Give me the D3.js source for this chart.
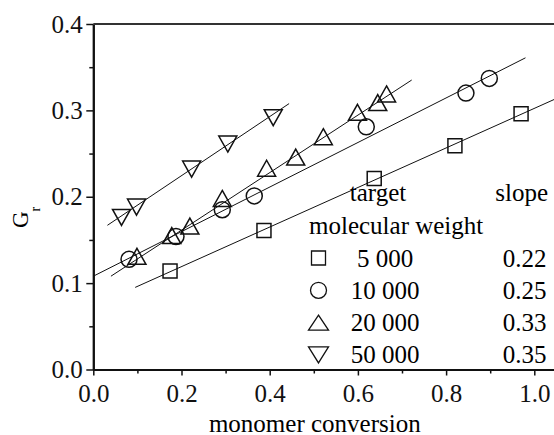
<!DOCTYPE html>
<html>
<head>
<meta charset="utf-8">
<script src="https://cdn.jsdelivr.net/npm/d3@7"></script>
<style>
  body { margin: 0; background: #fff; }
  svg text { font-family: "Liberation Serif", "Times New Roman", "Liberation Sans", sans-serif; }
</style>
</head>
<body>
<svg id="chart" width="554" height="435"></svg>
<script>
// data
var seriesNames = ["5 000", "10 000", "20 000", "50 000"];
var seriesSlopes = ["0.22", "0.25", "0.33", "0.35"];
var seriesSymbols = ["square", "circle", "triangleUp", "triangleDown"];

var x5k = [0.174, 0.387, 0.637, 0.820, 0.970];
var y5k = [0.114, 0.161, 0.221, 0.259, 0.296];
var x10k = [0.081, 0.1875, 0.2925, 0.365, 0.619, 0.845, 0.898];
var y10k = [0.1275, 0.154, 0.185, 0.201, 0.281, 0.320, 0.337];
var x20k = [0.099, 0.178, 0.219, 0.2925, 0.393, 0.459, 0.5216, 0.599, 0.645, 0.665];
var y20k = [0.1310, 0.155, 0.166, 0.198, 0.233, 0.246, 0.2695, 0.2977, 0.309, 0.319];
var x50k = [0.064, 0.098, 0.223, 0.305, 0.408];
var y50k = [0.176, 0.188, 0.232, 0.261, 0.2915];

// fitted lines: intercept, slope, x start, x end
var fitIntercept = [0.0733, 0.108, 0.0947, 0.156];
var fitSlope = [0.229, 0.258, 0.333, 0.342];
var fitStart = [0.095, 0.0, 0.040, 0.032];
var fitEnd = [1.06, 0.98, 0.722, 0.444];

var xMajor = [0, 0.2, 0.4, 0.6, 0.8, 1.0];
var xMinor = [0.1, 0.3, 0.5, 0.7, 0.9];
var yMajor = [0, 0.1, 0.2, 0.3, 0.4];
var yMinor = [0.05, 0.15, 0.25, 0.35];

var xs = [x5k, x10k, x20k, x50k];
var ys = [y5k, y10k, y20k, y50k];

var serif = "'Liberation Serif', 'Times New Roman', 'Liberation Sans', sans-serif";
var svg = d3.select("#chart");

var plotLeft = 93.3, plotTop = 24, plotBottom = 369.5;
var x = d3.scaleLinear().domain([0, 1.06]).range([plotLeft, plotLeft + 441 * 1.06]);
var y = d3.scaleLinear().domain([0, 0.4]).range([plotBottom, plotTop]);

// fitted lines
var lineG = svg.append("g");
fitSlope.forEach(function (s, i) {
  var pts = [fitStart[i], fitEnd[i]].map(function (v) { return [v, fitIntercept[i] + s * v]; });
  lineG.append("path")
    .attr("d", d3.line().x(function (d) { return x(d[0]); }).y(function (d) { return y(d[1]); })(pts))
    .attr("fill", "none")
    .attr("stroke", "#111")
    .attr("stroke-width", 1);
});

function symbolPath(type, w, h) {
  if (type === "square") {
    return "M" + (-w / 2) + "," + (-w / 2) + "h" + w + "v" + w + "h" + (-w) + "Z";
  }
  if (type === "circle") {
    var r = w / 2;
    return "M" + r + ",0A" + r + "," + r + " 0 1,1 " + (-r) + ",0A" + r + "," + r + " 0 1,1 " + r + ",0Z";
  }
  if (type === "triangleUp") {
    return "M0," + (-h / 2) + "L" + (w / 2) + "," + (h / 2) + "L" + (-w / 2) + "," + (h / 2) + "Z";
  }
  return "M0," + (h / 2) + "L" + (w / 2) + "," + (-h / 2) + "L" + (-w / 2) + "," + (-h / 2) + "Z";
}

var symW = [14, 16, 18, 18];
var symH = [14, 16, 16, 16];

// markers
xs.forEach(function (xv, i) {
  var data = xv.map(function (v, j) { return [v, ys[i][j]]; });
  svg.append("g").selectAll("path")
    .data(data)
    .enter()
    .append("path")
    .attr("transform", function (d) { return "translate(" + x(d[0]) + "," + y(d[1]) + ")"; })
    .attr("d", symbolPath(seriesSymbols[i], symW[i], symH[i]))
    .attr("fill", "none")
    .attr("stroke", "#111")
    .attr("stroke-width", 1.5);
});

// axes
var xAxis = d3.axisBottom(x).tickValues(xMajor).tickFormat(d3.format(".1f"))
  .tickSize(6).tickSizeOuter(0).tickPadding(8.5);
var xAxisMinor = d3.axisBottom(x).tickValues(xMinor).tickFormat("").tickSize(4).tickSizeOuter(0);
var yAxis = d3.axisLeft(y).tickValues(yMajor).tickFormat(d3.format(".1f"))
  .tickSize(7).tickSizeOuter(0).tickPadding(3.6);
var yAxisMinor = d3.axisLeft(y).tickValues(yMinor).tickFormat("").tickSize(4).tickSizeOuter(0);

svg.append("g").attr("transform", "translate(0," + plotBottom + ")").call(xAxis);
svg.append("g").attr("transform", "translate(0," + plotBottom + ")").call(xAxisMinor);
svg.append("g").attr("transform", "translate(" + plotLeft + ",0)").call(yAxis);
svg.append("g").attr("transform", "translate(" + plotLeft + ",0)").call(yAxisMinor);

svg.selectAll("g").attr("font-family", serif);
svg.selectAll(".domain").attr("stroke", "#111").attr("stroke-width", 2);
svg.selectAll(".tick line").attr("stroke", "#111").attr("stroke-width", 1.5);
svg.selectAll(".tick text").attr("fill", "#111").attr("font-size", 25);

// top frame line
svg.append("line")
  .attr("x1", plotLeft).attr("x2", x.range()[1])
  .attr("y1", plotTop).attr("y2", plotTop)
  .attr("stroke", "#333").attr("stroke-width", 2);

// axis titles
svg.append("text")
  .attr("x", x(0.5) + 1).attr("y", 431.5)
  .attr("text-anchor", "middle")
  .attr("font-family", serif).attr("font-size", 25)
  .text("monomer conversion");

var yt = svg.append("text")
  .attr("transform", "translate(28,228) rotate(-90)")
  .attr("font-family", serif).attr("font-size", 23);
yt.append("tspan").text("G");
yt.append("tspan").attr("dy", 12).attr("font-size", 14).text("r");

// legend
var leg = svg.append("g").attr("font-family", serif).attr("font-size", 25);
leg.append("text").attr("x", 378).attr("y", 201).attr("text-anchor", "middle").text("target");
leg.append("text").attr("x", 548).attr("y", 201).attr("text-anchor", "end").text("slope");
leg.append("text").attr("x", 309).attr("y", 233.5).text("molecular weight");

var legW = [14, 16, 20, 20];
var legH = [14, 16, 15, 16];
seriesNames.forEach(function (name, i) {
  var base = 266.5 + i * 32.3;
  leg.append("path")
    .attr("transform", "translate(318.5," + (base - 8.5) + ")")
    .attr("d", symbolPath(seriesSymbols[i], legW[i], legH[i]))
    .attr("fill", "none").attr("stroke", "#111").attr("stroke-width", 1.3);
  leg.append("text").attr("x", 385).attr("y", base).attr("text-anchor", "middle").text(name);
  leg.append("text").attr("x", 546.5).attr("y", base).attr("text-anchor", "end").text(seriesSlopes[i]);
});
</script>
</body>
</html>
